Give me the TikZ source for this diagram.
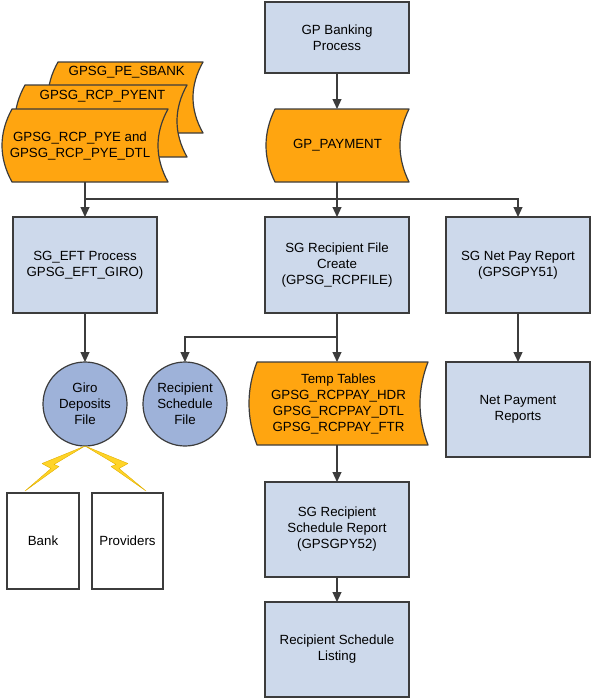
\documentclass[tikz,border=0pt]{standalone}
\usepackage{fontspec}
\setmainfont{Liberation Sans}
\usetikzlibrary{arrows.meta}
\definecolor{boxblue}{RGB}{205,217,235}
\definecolor{circblue}{RGB}{158,178,217}
\definecolor{storeor}{RGB}{255,165,16}
\definecolor{edgegray}{RGB}{60,60,60}
\definecolor{boltfill}{RGB}{255,212,40}
\definecolor{boltedge}{RGB}{225,175,0}
\newcommand\storeshape[5]{%
  \draw[storesty] ({#1+#5},#2) -- (#3,#2)
   .. controls ({#3-1.333*#5},{#2+(#4-#2)/3}) and ({#3-1.333*#5},{#4-(#4-#2)/3}) .. (#3,#4)
   -- ({#1+#5},#4)
   .. controls ({#1-0.333*#5},{#4-(#4-#2)/3}) and ({#1-0.333*#5},{#2+(#4-#2)/3}) .. ({#1+#5},#2) -- cycle;}
\tikzset{
 every node/.style={font=\fontsize{13.3}{16}\selectfont, align=center, inner sep=0pt, outer sep=0pt},
 procbox/.style={draw=edgegray, line width=1.2pt, fill=boxblue, minimum width=144pt, minimum height=96pt},
 filecirc/.style={circle, draw=edgegray, line width=1.2pt, fill=circblue, minimum size=84pt},
 extbox/.style={draw=edgegray, line width=1.2pt, fill=white, minimum width=72pt, minimum height=96pt},
 storesty/.style={draw=edgegray, line width=1.2pt, fill=storeor, line join=round},
 conn/.style={draw=edgegray, line width=1.2pt},
 arr/.style={conn, -{Triangle[length=10pt,width=9pt]}},
 bolt/.style={fill=boltfill, draw=boltedge, line width=0.4pt, line join=round}
}
\begin{document}
\begin{tikzpicture}[x=1pt,y=-1pt]
\useasboundingbox (0,0) rectangle (591,699);
% top process
\node[procbox, minimum height=71pt] (gpb) at (337,37.5) {GP Banking\\Process};
\storeshape{266}{109}{409}{182}{9}
\node[minimum width=143pt, minimum height=73pt] (pay) at (337.5,145.5) {GP\_PAYMENT};
% stacked cards
\storeshape{48}{62}{203}{133}{10}
\node (cardA) at (126.7,72) {GPSG\_PE\_SBANK};
\storeshape{15}{85}{187}{157}{10}
\node (cardB) at (102.5,96) {GPSG\_RCP\_PYENT};
\storeshape{2}{109}{168}{182}{10}
\node[minimum height=73pt] (cardC) at (80,145.5) {GPSG\_RCP\_PYE and\\GPSG\_RCP\_PYE\_DTL};
% second row
\node[procbox] (eft) at (85,265) {SG\_EFT Process\\GPSG\_EFT\_GIRO)};
\node[procbox] (rcp) at (337,265) {SG Recipient File\\Create\\(GPSG\_RCPFILE)};
\node[procbox] (net) at (518,265) {SG Net Pay Report\\(GPSGPY51)};
% third row
\node[filecirc] (giro) at (85,404) {Giro\\Deposits\\File};
\node[filecirc] (rsf) at (185,404) {Recipient\\Schedule\\File};
\storeshape{249}{362}{428}{445}{8}
\node[minimum width=179pt, minimum height=83pt] (temp) at (338.5,403.5) {Temp Tables\\GPSG\_RCPPAY\_HDR\\GPSG\_RCPPAY\_DTL\\GPSG\_RCPPAY\_FTR};
\node[procbox, minimum height=95pt] (netrep) at (518,409.5) {Net Payment\\Reports};
% lower
\node[procbox, minimum height=95pt] (rep) at (337,529.5) {SG Recipient\\Schedule Report\\(GPSGPY52)};
\node[procbox, minimum height=95pt] (list) at (337,649.5) {Recipient Schedule\\Listing};
\node[extbox] (bank) at (43,541) {Bank};
\node[extbox, minimum width=71pt] (prov) at (127.5,541) {Providers};
% junctions
\coordinate (j1) at (337,199);
\coordinate (j2) at (337,337);
% connectors
\draw[arr] (gpb.south) -- (gpb.south |- pay.north);
\draw[arr] (pay.south -| rcp.north) -- (rcp.north);
\draw[arr] (cardC.south -| eft.north) -- (eft.north);
\draw[arr] (eft.north |- j1) -- (net.north |- j1) -- (net.north);
\draw[arr] (eft.south) -- (giro.north);
\draw[arr] (rcp.south) -- (rcp.south |- temp.north);
\draw[arr] (rcp.south |- j2) -- (rsf.north |- j2) -- (rsf.north);
\draw[arr] (net.south) -- (netrep.north);
\draw[arr] (temp.south -| rep.north) -- (rep.north);
\draw[arr] (rep.south) -- (list.north);
% lightning bolts
\draw[bolt, shift={(giro.south)}] (0,0) -- (-43,17.5) -- (-34,22.5) -- (-60,45) -- (-26,20.5) -- (-31,18.5) -- cycle;
\draw[bolt, shift={(giro.south)}] (0,0) -- (43,17.5) -- (34,22.5) -- (61,45) -- (26,20.5) -- (31,18.5) -- cycle;
\end{tikzpicture}
\end{document}
